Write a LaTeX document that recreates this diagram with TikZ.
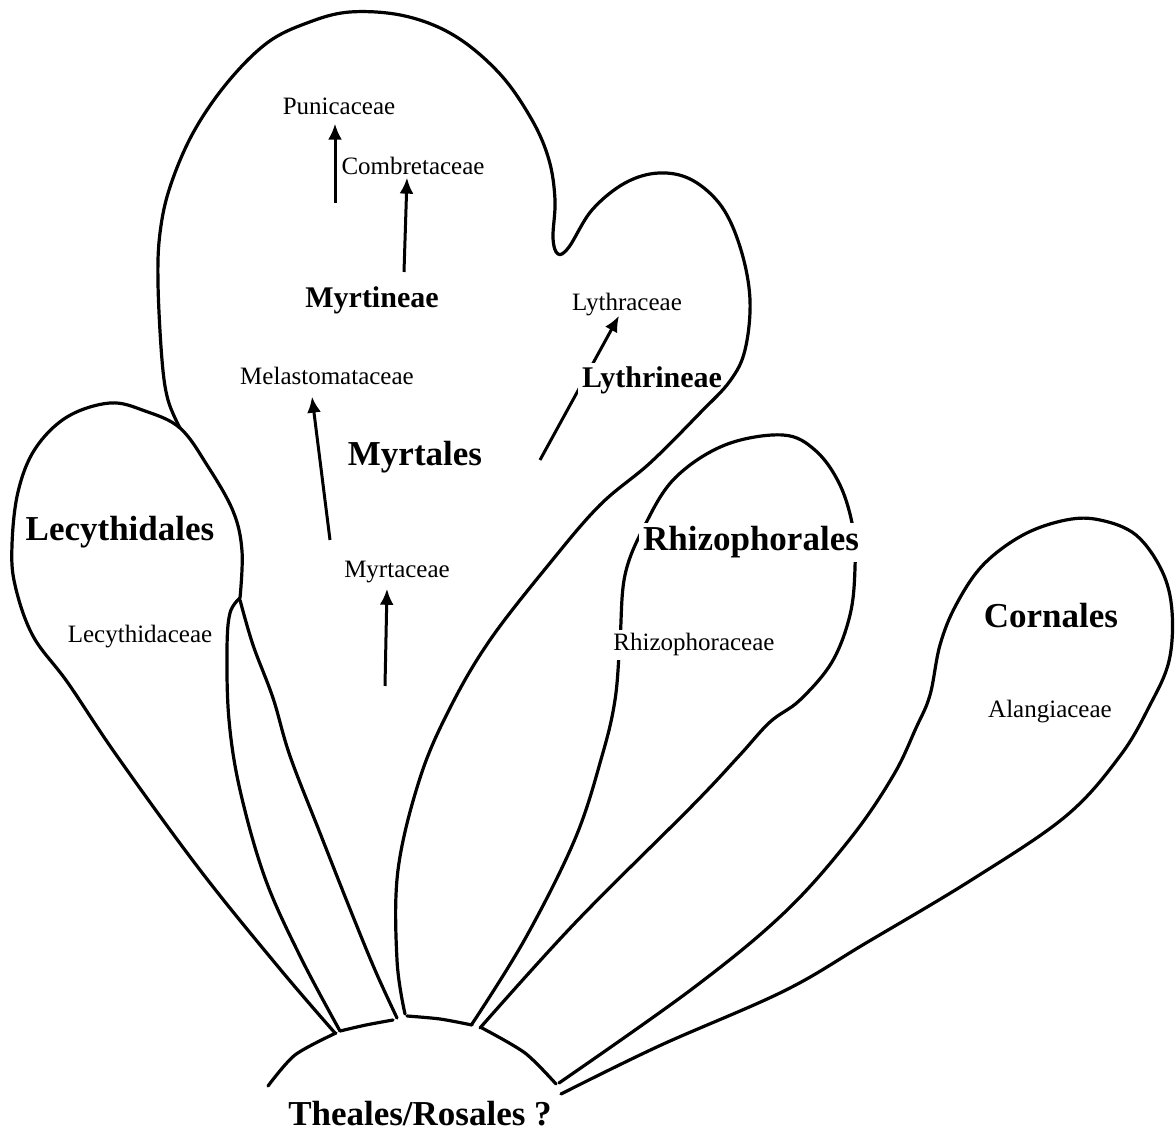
\documentclass[tikz,border=0pt]{standalone}
\usepackage{fontspec}
\setmainfont{Liberation Serif}
\usepackage{tikz}
\usetikzlibrary{arrows.meta, calc}
\tikzstyle{outline} = [line width=1.6pt, line cap=round, line join=round]
\tikzstyle{order} = [anchor=base, inner sep=1pt, font=\bfseries\fontsize{17.5}{21}\selectfont]
\tikzstyle{suborder} = [anchor=base, inner sep=1pt, font=\bfseries\fontsize{15}{18}\selectfont]
\tikzstyle{family} = [anchor=base, inner sep=1pt, font=\fontsize{12.5}{15}\selectfont]
\tikzstyle{mask} = [fill=white, inner sep=2pt]
\tikzstyle{arrow} = [line width=1.5pt, -{Latex[length=8pt, width=7pt]}]

\begin{document}
\begin{tikzpicture}[x=0.5pt, y=-0.5pt]
    \useasboundingbox (0,0) rectangle (1175,1134);

    % Family and suborder labels
    \node[family] (punicaceae) at (339,115) {Punicaceae};
    \node[family] (combretaceae) at (413,175) {Combretaceae};
    \node[suborder] (myrtineae) at (372,308) {Myrtineae};
    \node[family] (lythraceae) at (627,311) {Lythraceae};
    \node[family] (melastomataceae) at (327,385) {Melastomataceae};
    \node[order] (myrtales) at (415,466) {Myrtales};
    \node[order] (lecythidales) at (120,541) {Lecythidales};
    \node[family] (myrtaceae) at (397,578) {Myrtaceae};
    \node[family] (lecythidaceae) at (140,643) {Lecythidaceae};
    \node[order] (cornales) at (1051,628) {Cornales};
    \node[family] (alangiaceae) at (1050,718) {Alangiaceae};
    \node[order] (theales) at (420,1125) {Theales/Rosales ?};

    % Arrow tails
    \coordinate (punicaceae tail) at (335,203);
    \coordinate (combretaceae tail) at (404,272);
    \coordinate (lythraceae tail) at (540,460);
    \coordinate (melastomataceae tail) at (330,540);
    \coordinate (myrtaceae tail) at (385,686);

    % Lythrineae sits over its arrow
    \draw[arrow] (lythraceae tail) -- ($(lythraceae.south)+(-8,-3)$);
    \node[suborder, mask] (lythrineae) at (652,388) {Lythrineae};

    % Myrtales
    \draw[outline] plot[smooth, tension=0.6] coordinates {(180,428) (168,400) (162,360) (158,283) (160,233) (170,187) (193,133) (227,83) (267,43) (307,23) (350,12) (405,16) (455,36) (500,74) (532,120) (549,160) (555,200) (553,238) (558,254) (569,247) (592,210) (625,183) (659,173) (692,180) (722,207) (741,250) (750,300) (745,350) (730,381) (700,413) (650,463) (600,505) (550,563) (490,640) (450,708) (420,778) (398,870) (397,960) (405,1014)};
    \draw[outline] plot[smooth, tension=0.6] coordinates {(240,600) (253,645) (273,698) (290,756) (320,833) (350,909) (375,970) (397,1018)};

    % Lecythidales
    \draw[outline] plot[smooth, tension=0.6] coordinates {(335,1033) (280,969) (200,870) (117,756) (68,683) (33,636) (15,585) (12,545) (18,492) (35,449) (67,417) (110,403) (145,411) (180,428) (207,465) (233,511) (242,551) (240,598)};
    \draw[outline] plot[smooth, tension=0.6] coordinates {(240,598) (230,613) (227,650) (229,720) (240,790) (265,878) (300,956) (340,1031)};

    % Rhizophorales
    \draw[outline] plot[smooth, tension=0.6] coordinates {(472,1024) (525,939) (575,839) (602,756) (615,700) (620,640) (625,575) (645,525) (675,478) (725,445) (783,435) (816,451) (840,485) (853,528) (855,568) (850,615) (832,662) (800,700) (770,722) (739,756) (692,806) (575,923) (480,1028)};

    % Cornales
    \draw[outline] plot[smooth, tension=0.6] coordinates {(559,1083) (692,989) (784,913) (850,839) (893,776) (916,728) (930,695) (940,645) (956,605) (983,565) (1023,535) (1066,520) (1100,520) (1136,535) (1162,571) (1172,611) (1169,661) (1150,705) (1120,756) (1066,816) (973,879) (866,943) (784,991) (659,1046) (561,1094)};

    % Theales/Rosales base
    \draw[outline] plot[smooth] coordinates {(268,1086) (295,1055) (336,1033)};
    \draw[outline] plot[smooth] coordinates {(340,1031) (366,1025) (393,1020)};
    \draw[outline] plot[smooth] coordinates {(407,1016) (440,1019) (472,1025)};
    \draw[outline] plot[smooth] coordinates {(482,1028) (525,1053) (556,1084)};

    % Labels over the outlines
    \node[order, mask] (rhizophorales) at (751,551) {Rhizophorales};
    \node[family, mask] (rhizophoraceae) at (694,651) {Rhizophoraceae};

    % Arrows
    \draw[arrow] (punicaceae tail) -- ($(punicaceae.south)+(-4,6)$);
    \draw[arrow] (combretaceae tail) -- ($(combretaceae.south)+(-6,0)$);
    \draw[arrow] (melastomataceae tail) -- ($(melastomataceae.south)+(-15,9)$);
    \draw[arrow] (myrtaceae tail) -- ($(myrtaceae.south)+(-10,3)$);
\end{tikzpicture}
\end{document}
